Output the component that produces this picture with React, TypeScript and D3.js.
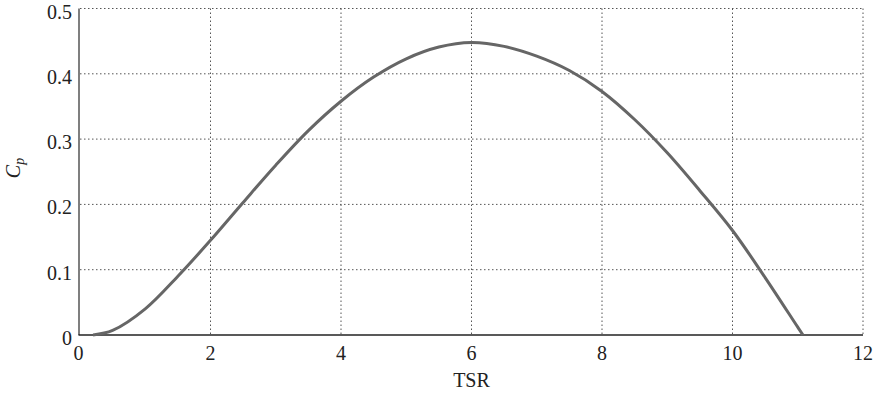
import { useEffect, useRef } from 'react';
import * as d3 from 'd3';

const tsr = [0.2, 0.5, 1.0, 1.5, 2.0, 2.5, 3.0, 3.5, 4.0, 4.5, 5.0, 5.5, 6.0, 6.5, 7.0, 7.5, 8.0, 8.5, 9.0, 9.5, 10.0, 10.5, 11.0, 11.08];
const cp = [0, 0.007, 0.04, 0.09, 0.145, 0.203, 0.26, 0.313, 0.358, 0.395, 0.423, 0.441, 0.448, 0.442, 0.427, 0.405, 0.373, 0.33, 0.279, 0.221, 0.16, 0.088, 0.012, 0];
const xTicks = [0, 2, 4, 6, 8, 10, 12];
const yTicks = [0, 0.1, 0.2, 0.3, 0.4, 0.5];

const App = () => {
    const svgRef = useRef<SVGSVGElement>(null);

    useEffect(() => {
        const svg = d3.select(svgRef.current);
        svg.selectAll('*').remove();

        const left = 80, right = 863, top = 8.5, bottom = 335;
        const font = '"Liberation Serif", "Times New Roman", serif';

        const x = d3.scaleLinear().domain([0, 12]).range([left, right]);
        const y = d3.scaleLinear().domain([0, 0.5]).range([bottom, top]);

        const grid = svg.append('g')
            .attr('stroke', '#555')
            .attr('stroke-width', 1)
            .attr('stroke-dasharray', '1.5,2.5');

        // dotted grid, also forms the top and right border
        grid.selectAll('.vg')
            .data(xTicks.filter(t => t > 0))
            .enter().append('line')
            .attr('x1', d => x(d)).attr('x2', d => x(d))
            .attr('y1', top).attr('y2', bottom);

        grid.selectAll('.hg')
            .data(yTicks.filter(t => t > 0))
            .enter().append('line')
            .attr('x1', left).attr('x2', right)
            .attr('y1', d => y(d)).attr('y2', d => y(d));

        // axes lines
        svg.append('line')
            .attr('x1', left - 1).attr('x2', left - 1)
            .attr('y1', top).attr('y2', bottom)
            .attr('stroke', '#555').attr('stroke-width', 1.5);
        svg.append('line')
            .attr('x1', left - 1.5).attr('x2', right)
            .attr('y1', bottom).attr('y2', bottom)
            .attr('stroke', '#222').attr('stroke-width', 1.5);

        const pts: [number, number][] = tsr.map((t, i) => [t, cp[i]]);
        const line = d3.line<[number, number]>()
            .x(d => x(d[0]))
            .y(d => y(d[1]))
            .curve(d3.curveCatmullRom.alpha(0.5));

        svg.append('path')
            .datum(pts)
            .attr('d', line)
            .attr('fill', 'none')
            .attr('stroke', '#666')
            .attr('stroke-width', 3);

        // tick labels
        svg.selectAll('.xl')
            .data(xTicks)
            .enter().append('text')
            .attr('x', d => x(d) - (d === 0 ? 1.5 : 0))
            .attr('y', 360)
            .attr('text-anchor', 'middle')
            .attr('font-family', font)
            .attr('font-size', 20)
            .attr('fill', '#222')
            .text(d => String(d));

        svg.selectAll('.yl')
            .data(yTicks)
            .enter().append('text')
            .attr('x', 72)
            .attr('y', d => y(d) + 10)
            .attr('text-anchor', 'end')
            .attr('font-family', font)
            .attr('font-size', 20)
            .attr('fill', '#222')
            .text(d => (d === 0 ? '0' : d.toFixed(1)));

        svg.append('text')
            .attr('x', (left + right) / 2)
            .attr('y', 387)
            .attr('text-anchor', 'middle')
            .attr('font-family', font)
            .attr('font-size', 20)
            .attr('fill', '#222')
            .text('TSR');

        const yl = svg.append('text')
            .attr('transform', 'translate(20,168) rotate(-90)')
            .attr('text-anchor', 'middle')
            .attr('font-family', font)
            .attr('font-size', 20)
            .attr('font-style', 'italic')
            .attr('fill', '#222');
        yl.append('tspan').text('C');
        yl.append('tspan').attr('font-size', 14).attr('dy', 4).text('p');
    }, []);

    return (
        <svg ref={svgRef} width={879} height={393}
            style={{ position: 'absolute', left: 0, top: 0, background: '#fff' }} />
    );
};

export default App;
